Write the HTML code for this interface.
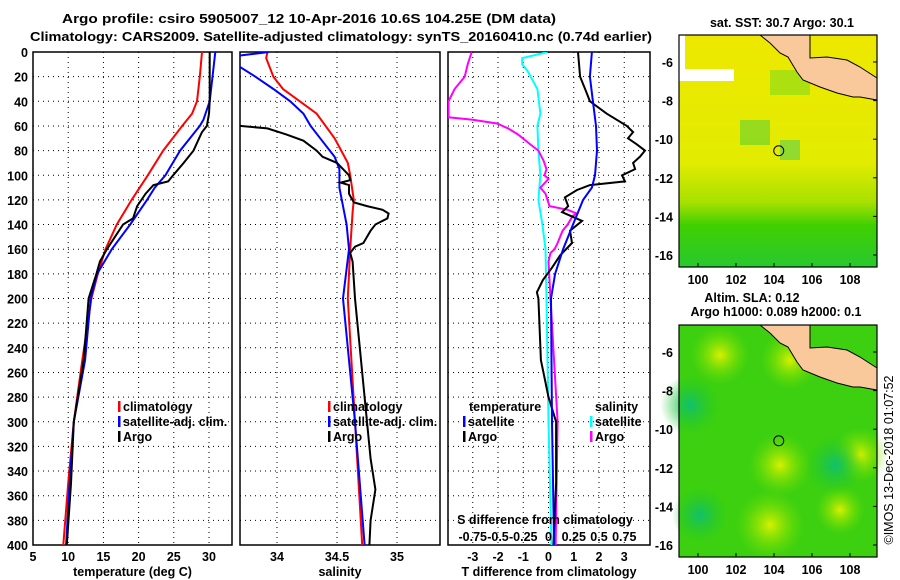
<!DOCTYPE html>
<html><head><meta charset="utf-8"><style>
body{margin:0;background:#fff}
svg{display:block;font-family:"Liberation Sans",sans-serif;font-weight:bold}
text{font-size:12.5px;fill:#000}
</style></head><body>
<svg id="c" width="900" height="580" viewBox="0 0 900 580">
<defs>
<clipPath id="cp1"><rect x="33" y="52" width="199" height="493"/></clipPath>
<clipPath id="cp2"><rect x="240" y="52" width="200" height="493"/></clipPath>
<clipPath id="cp3"><rect x="448" y="52" width="202" height="493"/></clipPath>
<linearGradient id="sstg" x1="0" y1="0" x2="0" y2="1">
<stop offset="0" stop-color="#eee800"/><stop offset="0.55" stop-color="#e2ec00"/><stop offset="0.72" stop-color="#a8e000"/><stop offset="0.82" stop-color="#40d000"/><stop offset="1" stop-color="#28c830"/></linearGradient>
<radialGradient id="blobY"><stop offset="0" stop-color="#d8f000"/><stop offset="1" stop-color="#70e000" stop-opacity="0"/></radialGradient>
<radialGradient id="blobT"><stop offset="0" stop-color="#10c070"/><stop offset="1" stop-color="#20c820" stop-opacity="0"/></radialGradient>
</defs>
<text x="309" y="23" text-anchor="middle" font-size="14" textLength="494" lengthAdjust="spacingAndGlyphs">Argo profile: csiro 5905007_12 10-Apr-2016 10.6S 104.25E (DM data)</text>
<text x="341" y="41" text-anchor="middle" font-size="14" textLength="622" lengthAdjust="spacingAndGlyphs">Climatology: CARS2009. Satellite-adjusted climatology: synTS_20160410.nc (0.74d earlier)</text>
<g id="axes"></g>
<g id="maps"></g>
</svg>
<script>
// depth levels and series (depth in m)
const tClimDepth=[0,20,40,50,60,80,100,120,140,160,180,200,250,300,350,400];
const tClimVal=[29.0,28.7,28.3,27.6,26.2,23.5,21.3,19.0,16.9,15.3,14.2,13.3,12.0,10.8,10.0,9.3];
const tSatDepth=[0,20,40,55,60,80,100,110,120,140,160,180,200,250,300,350,400];
const tSatVal=[30.9,30.5,30.1,29.2,28.7,25.9,23.8,22.3,21.2,18.8,16.2,14.1,13.2,12.4,10.8,10.2,9.7];
const tArgoDepth=[0,40,50,60,65,70,80,90,100,105,108,115,125,135,140,160,170,180,200,250,300,350,400];
const tArgoVal=[30.1,30.1,30.0,29.7,29.0,28.6,27.8,26.4,24.9,24.2,22.1,21.0,19.8,19.2,17.8,15.5,14.5,14.0,12.9,12.2,10.8,10.4,9.8];
const sClimDepth=[0,5,20,30,40,50,70,90,100,120,130,160,200,300,400];
const sClimVal=[33.92,33.91,33.97,34.05,34.19,34.33,34.48,34.59,34.61,34.64,34.63,34.61,34.59,34.65,34.71];
const sSatDepth=[0,4,12,20,30,40,50,60,70,85,95,110,120,140,160,200,300,400];
const sSatVal=[33.93,33.6,33.69,33.82,33.97,34.11,34.22,34.28,34.36,34.48,34.52,34.52,34.54,34.58,34.60,34.55,34.65,34.73];
const sArgoDepth=[0,59,60,62,67,72,80,85,90,95,100,104,106,108,115,122,125,128,131,135,140,145,155,158,163,170,200,250,300,330,355,380,400];
const sArgoVal=[33.4,33.4,33.69,33.92,34.08,34.22,34.33,34.38,34.50,34.55,34.60,34.61,34.53,34.60,34.60,34.64,34.75,34.88,34.93,34.92,34.82,34.78,34.72,34.65,34.61,34.63,34.65,34.70,34.75,34.78,34.82,34.78,34.77];
const dTSatDepth=[0,20,40,60,80,100,110,120,140,160,180,200,300,400];
const dTSatVal=[1.72,1.64,1.76,1.88,1.92,1.84,1.72,1.37,0.97,0.58,0.26,0.10,0.14,0.22];
const dTArgoDepth=[0,20,30,40,50,60,65,70,75,80,85,90,95,100,105,108,112,118,125,130,137,145,155,165,175,185,195,200,250,280,300,350,400];
const dTArgoVal=[1.17,1.25,1.45,1.64,2.3,3.1,3.35,3.15,3.5,3.82,3.62,3.35,3.43,2.91,3.03,1.64,1.13,0.65,0.78,0.54,1.33,0.85,0.93,0.46,0.14,-0.22,-0.46,-0.4,-0.3,0.0,0.3,0.3,0.2];
const dSSatDepth=[0,5,10,15,30,50,60,80,100,120,140,160,200,300,400];
const dSSatVal=[-0.01,-0.26,-0.26,-0.21,-0.11,-0.08,-0.11,-0.10,-0.08,-0.10,-0.06,-0.03,-0.02,0.0,0.03];
const dSArgoDepth=[0,10,20,30,40,53,55,58,62,67,75,80,88,95,100,103,110,115,125,128,131,133,140,145,155,160,163,170,200,300,400];
const dSArgoVal=[-0.76,-0.8,-0.83,-0.93,-0.99,-0.99,-0.75,-0.51,-0.4,-0.3,-0.18,-0.1,-0.05,-0.02,-0.04,0.0,-0.08,-0.03,0.01,0.19,0.28,0.24,0.19,0.14,0.09,0.06,0.02,0.0,0.02,0.09,0.07];
const depthTicks=[0,20,40,60,80,100,120,140,160,180,200,220,240,260,280,300,320,340,360,380,400];
const tTicks=[5,10,15,20,25,30];
const sTicks=[34,34.5,35];
const dTTicks=[-3,-2,-1,0,1,2,3];
const dSTickLabels=["-0.75","-0.5","-0.25","0","0.25","0.5","0.75"];
const lonTicks=[100,102,104,106,108];
const latTicks=[-6,-8,-10,-12,-14,-16];

const NS="http://www.w3.org/2000/svg";
const root=document.getElementById('axes');
function el(tag,attrs,parent,txt){const e=document.createElementNS(NS,tag);for(const k in attrs)e.setAttribute(k,attrs[k]);if(txt!==undefined)e.textContent=txt;(parent||root).appendChild(e);return e;}
const Y=d=>52+d*(493/400);
const XT=t=>33+(t-5)*7.04;
const XS=s=>277+(s-34)*120;
const XD=v=>548.5+v*25.25;
const XDS=s=>548.5+s*101;

function panel(x0,x1,name,xticks,xf,labels,title,showY){
  const g=el('g',{});
  
  
  depthTicks.forEach(d=>{if(d>0&&d<400){const l=el('line',{x1:x0,x2:x1,y1:Y(d),y2:Y(d),stroke:'#000','stroke-width':1,'stroke-dasharray':'1,4'},g);}
    if(showY){const t=el('text',{x:28,y:Y(d)+5,'text-anchor':'end'},g,String(d));}});
  xticks.forEach((v,i)=>{const x=xf(v);if(x>x0+1&&x<x1-1){const l=el('line',{x1:x,x2:x,y1:52,y2:545,stroke:'#000','stroke-width':1,'stroke-dasharray':'1,4'},g);}
    const t=el('text',{x:x,y:561,'text-anchor':'middle'},g,labels[i]);});
  const r=el('rect',{x:x0,y:52,width:x1-x0,height:493,fill:'none',stroke:'#000','stroke-width':1.5},g);
  
  const tt=el('text',{x:(x0+x1)/2,y:576,'text-anchor':'middle'},g,title);
  
  return g;
}
function series(g,depths,vals,xf,color,clip,name,w){
  const pts=depths.map((d,i)=>xf(vals[i]).toFixed(1)+','+Y(d).toFixed(1)).join(' ');
  const p=el('polyline',{points:pts,fill:'none',stroke:color,'stroke-width':w||2,'clip-path':'url(#'+clip+')'},g);
  
}
function legend(g,x,y,color,txt){
  const b=el('rect',{x:x,y:y-10,width:2.5,height:11,fill:color},g);
  
  const t=el('text',{x:x+5,y:y},g,txt);
  
}
const g1=panel(33,232,'temperature-panel',tTicks,XT,tTicks.map(String),'temperature (deg C)',true);
series(g1,tClimDepth,tClimVal,XT,'#f00','cp1','temperature-climatology-line');
series(g1,tSatDepth,tSatVal,XT,'#00f','cp1','temperature-satellite-line');
series(g1,tArgoDepth,tArgoVal,XT,'#000','cp1','temperature-argo-line');
legend(g1,118,411,'#f00','climatology');legend(g1,118,426,'#00f','satellite-adj. clim.');legend(g1,118,441,'#000','Argo');

const g2=panel(240,440,'salinity-panel',sTicks,XS,sTicks.map(String),'salinity',false);
series(g2,sClimDepth,sClimVal,XS,'#f00','cp2','salinity-climatology-line');
series(g2,sSatDepth,sSatVal,XS,'#00f','cp2','salinity-satellite-line');
series(g2,sArgoDepth,sArgoVal,XS,'#000','cp2','salinity-argo-line');
legend(g2,328,411,'#f00','climatology');legend(g2,328,426,'#00f','satellite-adj. clim.');legend(g2,328,441,'#000','Argo');

const g3=panel(448,650,'difference-panel',dTTicks,XD,dTTicks.map(String),'T difference from climatology',false);
series(g3,dSSatDepth,dSSatVal,XDS,'#0ff','cp3','salinity-diff-satellite-line');
series(g3,dSArgoDepth,dSArgoVal,XDS,'#f0f','cp3','salinity-diff-argo-line');
series(g3,dTArgoDepth,dTArgoVal,XD,'#000','cp3','temperature-diff-argo-line');
series(g3,dTSatDepth,dTSatVal,XD,'#00f','cp3','temperature-diff-satellite-line');
let tl=el('text',{x:469,y:411},g3,'temperature');
legend(g3,463,426,'#00f','satellite');legend(g3,463,441,'#000','Argo');
tl=el('text',{x:595,y:411},g3,'salinity');
legend(g3,590,426,'#0ff','satellite');legend(g3,590,441,'#f0f','Argo');
tl=el('text',{x:545,y:524,'text-anchor':'middle'},g3,'S difference from climatology');
dSTickLabels.forEach((s,i)=>{const t=el('text',{x:XD(dTTicks[i]),y:541,'text-anchor':'middle'},g3,s);});

// maps
const mg=document.getElementById('maps');
function mapPanel(top,bottom,name,kind){
  const g=el('g',{},mg);
  
  const X=lon=>698+(lon-100)*19;
  const Yl=lat=>top+27+(-6-lat)*19.3;
  const o=top-35;
  if(kind==='sst'){
    el('rect',{x:679,y:top,width:198,height:bottom-top,fill:'url(#sstg)'},g);
    el('rect',{x:740,y:top+85,width:30,height:25,fill:'#60d030',opacity:0.6},g);
    el('rect',{x:780,y:top+105,width:20,height:20,fill:'#40c860',opacity:0.5},g);
    el('rect',{x:770,y:top+35,width:40,height:25,fill:'#70d820',opacity:0.5},g);
    el('rect',{x:679,y:top+34,width:55,height:12,fill:'#fff'},g);
    el('rect',{x:679,y:top,width:6,height:45,fill:'#fff'},g);
  }else{
    el('rect',{x:679,y:top,width:198,height:bottom-top,fill:'#3cd010'},g);
    [[720,top+30,30,'url(#blobY)'],[790,top+35,30,'url(#blobY)'],[780,top+140,32,'url(#blobY)'],[770,top+200,35,'url(#blobY)'],[860,top+130,28,'url(#blobY)'],[840,top+185,25,'url(#blobY)'],[700,top+190,28,'url(#blobT)'],[835,top+140,30,'url(#blobT)'],[690,top+80,30,'url(#blobT)']].forEach(b=>el('circle',{cx:b[0],cy:b[1],r:b[2],fill:b[3]},g));
  }
  const pts=[[760,35],[770,43],[780,53],[788,57],[797,72],[803,80],[820,87],[837,93],[853,97],[860,97],[877,100],[877,78],[860,67],[847,60],[827,57],[810,58],[810,35]];
  const land=el('path',{d:'M'+pts.map(p=>p[0]+' '+(p[1]+o)).join(' L')+' Z',fill:'#f9c89b',stroke:'#000','stroke-width':1},g);
  
  const c=el('circle',{cx:X(104.25),cy:Yl(-10.6),r:5,fill:'none',stroke:'#000','stroke-width':1},g);
  
  const fr=el('rect',{x:679,y:top,width:198,height:bottom-top,fill:'none',stroke:'#000','stroke-width':1.2},g);
  
  lonTicks.forEach(l=>{el('line',{x1:X(l),x2:X(l),y1:bottom,y2:bottom-4,stroke:'#000'},g);const t=el('text',{x:X(l),y:bottom+17,'text-anchor':'middle'},g,String(l));});
  latTicks.forEach(l=>{el('line',{x1:877,x2:873,y1:Yl(l),y2:Yl(l),stroke:'#000'},g);const t=el('text',{x:673,y:Yl(l)+5,'text-anchor':'end'},g,String(l));});
}
mapPanel(35,267,'sst-map','sst');
mapPanel(325,557,'sla-map','sla');
let mt=el('text',{x:782,y:27,'text-anchor':'middle'},mg,'sat. SST: 30.7 Argo: 30.1');
mt=el('text',{x:752,y:302,'text-anchor':'middle'},mg,'Altim. SLA: 0.12');
mt=el('text',{x:776,y:316,'text-anchor':'middle'},mg,'Argo h1000: 0.089 h2000: 0.1');
mt=el('text',{x:0,y:0,transform:'translate(893,460) rotate(-90)','text-anchor':'middle','font-weight':'normal','font-size':'12'},mg,'©IMOS 13-Dec-2018 01:07:52');
</script>
</body></html>
